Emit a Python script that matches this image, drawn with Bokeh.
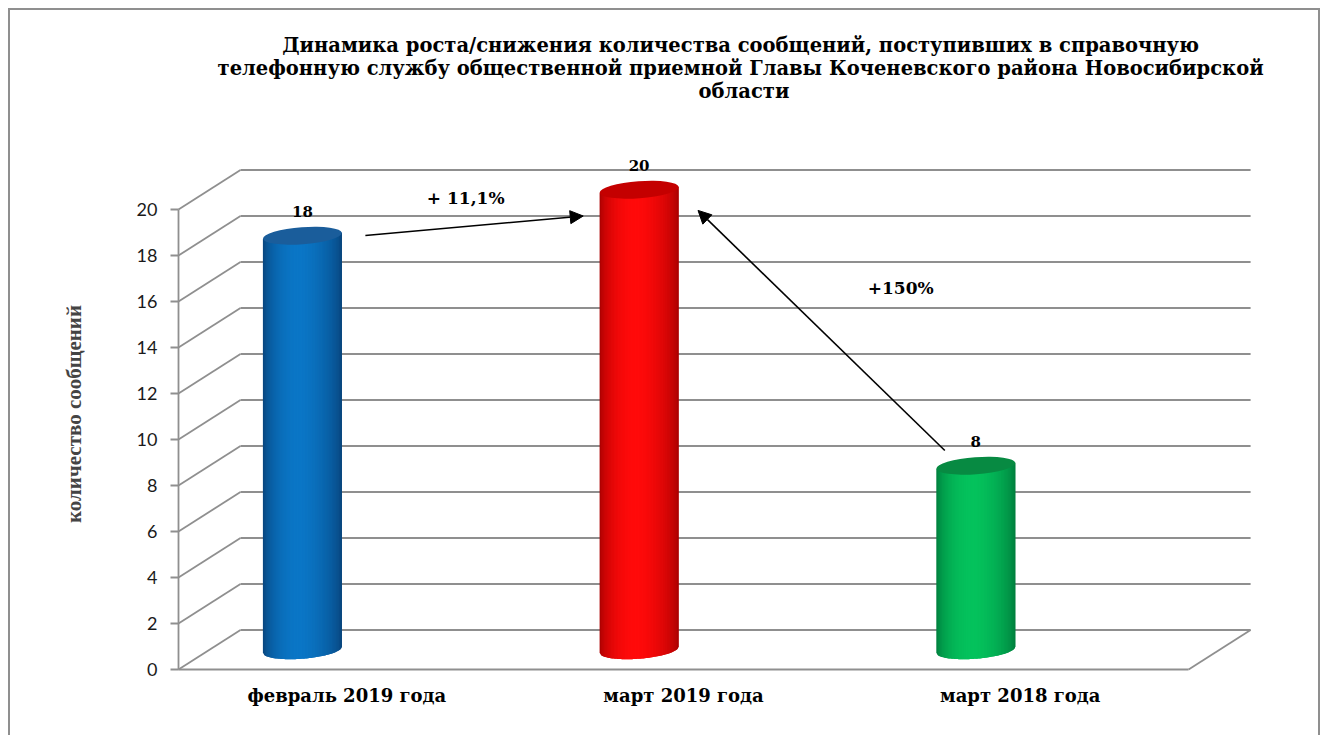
import numpy as np
from bokeh.plotting import figure
from bokeh.models import Range1d, FixedTicker, Arrow, NormalHead, Title
from bokeh.core.properties import value
from bokeh.embed import file_html
from bokeh.resources import INLINE

# ---------------- data ----------------
categories = ["февраль 2019 года", "март 2019 года", "март 2018 года"]
counts = [18, 20, 8]
y_ticks = [0, 2, 4, 6, 8, 10, 12, 14, 16, 18, 20]
change_labels = ["+ 11,1%", "+150%"]
title_lines = [
    "Динамика роста/снижения количества сообщений, поступивших  в справочную",
    "телефонную службу общественной приемной  Главы Коченевского района Новосибирской",
    "области",
]
y_title = "количество сообщений"
bar_dark = ["#083f75", "#a00000", "#00773a"]
bar_light = ["#0a76c6", "#ff0a0a", "#04c25c"]
bar_top = ["#1a5d9b", "#c40000", "#078a42"]

# ---------------- geometry (pixels per data unit) ----------------
PX_X = 336.7          # px per category
PX_Y = 23.0           # px per count unit
DX = 62 / PX_X        # depth offset x
DY = 39.5 / PX_Y      # depth offset y
XL = 0.5              # front left corner of the floor
n = len(categories)
XR = XL + n
BAR_W = 79 / PX_X
BAR_SHIFT = -0.132
TOP_B = 8.5 / PX_Y
BOT_B = 9 / PX_Y
TILT_PX = 6.0 / 79.0
K = TILT_PX * PX_X / PX_Y          # data slope of ellipse axis
ANGLE = float(np.arctan(TILT_PX))

W, H = 1312, 727
frame_left_px = 165
frame_right_px = 1302
frame_top_px = 145
frame_bottom_px = 662
x0 = XL - 3 / PX_X
x1 = x0 + (frame_right_px - frame_left_px) / PX_X
y0 = -3 / PX_Y
y1 = y0 + (frame_bottom_px - frame_top_px) / PX_Y

p = figure(width=W, height=H, output_backend="svg", toolbar_location=None,
           x_range=Range1d(x0, x1), y_range=Range1d(y0, y1),
           min_border_left=frame_left_px, min_border_right=W - frame_right_px,
           min_border_top=frame_top_px, min_border_bottom=H - frame_bottom_px)
p.outline_line_color = None
p.background_fill_color = "white"
p.border_fill_color = "white"
p.xgrid.visible = False
p.ygrid.visible = False
p.styles = {"margin-left": "8px", "margin-top": "8px",
            "border-top": "2px solid #8f8f8f", "border-left": "2px solid #8f8f8f",
            "border-right": "2px solid #8f8f8f"}

SERIF_T = "DejaVu Serif"
TFS = "19.5px"
# spacer between the plot and the title block (innermost panel)
p.add_layout(Title(text=" ", align="center", text_font=SERIF_T, text_font_size=TFS,
                   standoff=29), "above")
# title lines: innermost first
for line in reversed(title_lines):
    p.add_layout(Title(text=line, align="center", text_font=SERIF_T,
                       text_font_style="bold", text_font_size=TFS,
                       text_color="black", standoff=-2.5), "above")

GRID = "#8f8f8f"
GW = 1.8
# back wall gridlines
p.segment(x0=[XL + DX] * len(y_ticks), y0=[v + DY for v in y_ticks],
          x1=[XR + DX] * len(y_ticks), y1=[v + DY for v in y_ticks],
          line_color=GRID, line_width=GW)
# side wall diagonals
p.segment(x0=[XL] * len(y_ticks), y0=y_ticks,
          x1=[XL + DX] * len(y_ticks), y1=[v + DY for v in y_ticks],
          line_color=GRID, line_width=GW)
# floor front edge and right edge, front axis
p.segment(x0=[XL, XR, XL], y0=[0, 0, 0], x1=[XR, XR + DX, XL], y1=[0, DY, y_ticks[-1]],
          line_color=GRID, line_width=GW)

# ---------------- cylinders ----------------
def hexrgb(h):
    h = h.lstrip("#")
    return np.array([int(h[i:i + 2], 16) for i in (0, 2, 4)], dtype=float)

def rgbhex(c):
    c = np.clip(np.round(c), 0, 255).astype(int)
    return "#%02x%02x%02x" % tuple(c)

NS = 56
xs_all, ys_all, cols_all = [], [], []
for i, v in enumerate(counts):
    cx = i + 1 + BAR_SHIFT
    a = BAR_W / 2
    yb = DY / 2
    yt = v + DY / 2
    dark, light = hexrgb(bar_dark[i]), hexrgb(bar_light[i])
    edges = np.linspace(-a, a, NS + 1)
    step = edges[1] - edges[0]

    def bottom(u):
        return yb + K * u - BOT_B * np.sqrt(max(0.0, 1 - (u / a) ** 2))

    for s in range(NS):
        u0 = edges[s]
        u1 = min(a, edges[s + 1] + step)   # overlap the next strip to hide seams
        t = (s + 0.5) / NS
        g = t / 0.45 * 0.5 if t < 0.45 else 0.5 + (t - 0.45) / 0.55 * 0.5
        f = np.sin(np.pi * g) ** 0.55
        if t > 0.5:
            f = f * (1 - 0.25 * (t - 0.5))
        col = dark + (light - dark) * f
        um = edges[s + 1] if u1 > edges[s + 1] else (u0 + u1) / 2
        xs_all.append([cx + u0, cx + um, cx + u1, cx + u1, cx + u0])
        ys_all.append([bottom(u0), bottom(um), bottom(u1), yt + K * u1, yt + K * u0])
        cols_all.append(rgbhex(col))
p.patches(xs=xs_all, ys=ys_all, fill_color=cols_all, line_color=None)

bar_x = [i + 1 + BAR_SHIFT for i in range(n)]
p.ellipse(x=bar_x, y=[v + DY / 2 for v in counts], width=BAR_W, height=2 * TOP_B,
          angle=ANGLE, fill_color=bar_top, line_color=None)

# value labels
SERIF = value(SERIF_T)
p.text(x=bar_x, y=[v + DY / 2 + (TOP_B * PX_Y + 10) / PX_Y for v in counts],
       text=[str(v) for v in counts], text_font=SERIF, text_font_style="bold",
       text_font_size="15px", text_align="center", text_baseline="bottom", text_color="black")

# change annotations
p.text(x=[(bar_x[0] + bar_x[1]) / 2 - 0.015, bar_x[2] - 0.223],
       y=[counts[1] + 0.52, counts[1] - 3.4],
       text=change_labels, text_font=SERIF, text_font_style="bold",
       text_font_size="17px", text_align="center", text_baseline="middle", text_color="black")

head = dict(size=13, fill_color="black", line_color="black")
p.add_layout(Arrow(end=NormalHead(**head), x_start=bar_x[0] + 0.187, y_start=counts[0] + 0.87,
                   x_end=bar_x[1] - 0.166, y_end=counts[0] + DY,
                   line_color="black", line_width=1.6))
p.add_layout(Arrow(end=NormalHead(**head), x_start=bar_x[2] - 0.092, y_start=counts[2] + 1.52,
                   x_end=bar_x[1] + 0.175, y_end=counts[1] - 0.04,
                   line_color="black", line_width=1.6))

# axes
p.yaxis.ticker = FixedTicker(ticks=y_ticks)
p.yaxis.axis_line_color = None
p.yaxis.major_tick_line_color = GRID
p.yaxis.major_tick_line_width = GW
p.yaxis.major_tick_in = 3
p.yaxis.major_tick_out = 5
p.yaxis.minor_tick_line_color = None
p.yaxis.major_label_text_font = "Lato"
p.yaxis.major_label_text_font_size = "18px"
p.yaxis.major_label_text_color = "#1a1a1a"
p.yaxis.major_label_standoff = 13
p.yaxis.axis_label = y_title
p.yaxis.axis_label_text_font = "Liberation Serif"
p.yaxis.axis_label_text_font_style = "bold"
p.yaxis.axis_label_text_font_size = "21px"
p.yaxis.axis_label_standoff = 48

p.xaxis.ticker = FixedTicker(ticks=[i + 1 for i in range(n)])
p.xaxis.major_label_overrides = {i + 1: c for i, c in enumerate(categories)}
p.xaxis.axis_line_color = None
p.xaxis.major_tick_line_color = None
p.xaxis.minor_tick_line_color = None
p.xaxis.major_tick_out = 0
p.xaxis.major_label_standoff = 12
p.xaxis.major_label_text_font = SERIF_T
p.xaxis.major_label_text_font_style = "bold"
p.xaxis.major_label_text_font_size = "18px"
p.xaxis.major_label_text_color = "black"

open("out.html", "w").write(file_html(p, INLINE))
